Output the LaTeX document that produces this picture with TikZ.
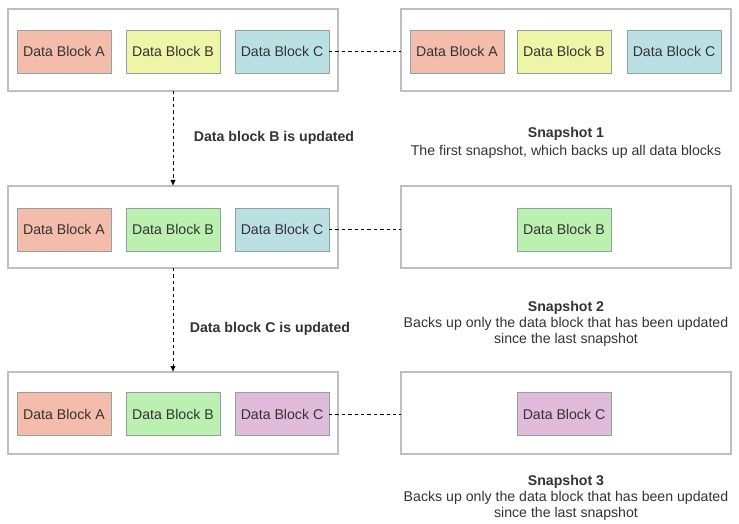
\documentclass[tikz,border=0pt]{standalone}
\usepackage{fontspec}
\setmainfont{Liberation Sans}
\usetikzlibrary{arrows.meta}
\definecolor{blockA}{HTML}{F4BCAB}
\definecolor{blockByel}{HTML}{EEF5A6}
\definecolor{blockBgrn}{HTML}{BBF0B0}
\definecolor{blockCcyn}{HTML}{BBE0E3}
\definecolor{blockCpur}{HTML}{E1BBDC}
\definecolor{blockline}{HTML}{8FA3A3}
\definecolor{boxline}{HTML}{BFBFBF}
\definecolor{txt}{HTML}{333333}
\tikzset{
  holder/.style={draw=boxline, line width=0.9pt, minimum width=247.5pt, minimum height=61.5pt, inner sep=0pt, outer sep=0pt},
  datablock/.style={draw=blockline, line width=0.7pt, minimum width=70.5pt, minimum height=32.25pt, inner sep=0pt, outer sep=0pt, text=txt, font=\fontsize{10.6}{12}\selectfont},
  link/.style={dash pattern=on 2.6pt off 2.2pt, line width=0.6pt},
  caption/.style={text=txt, align=center, font=\fontsize{10.6}{12}\selectfont}
}
\begin{document}
\begin{tikzpicture}[x=0.75pt,y=-0.75pt]
        \useasboundingbox (0,0) rectangle (739,524);
        % row 1
        \node[holder] (src1) at (173,50) {};
        \node[holder] (snap1) at (566,50) {};
        \node[datablock, fill=blockA] (a1) at (64,51.5) {Data Block A};
        \node[datablock, fill=blockByel] (b1) at (173,51.5) {Data Block B};
        \node[datablock, fill=blockCcyn] (c1) at (282,51.5) {Data Block C};
        \node[datablock, fill=blockA] (sa1) at (457,51.5) {Data Block A};
        \node[datablock, fill=blockByel] (sb1) at (564,51.5) {Data Block B};
        \node[datablock, fill=blockCcyn] (sc1) at (674,51.5) {Data Block C};
        \draw[link] (c1.east) -- (c1.east -| snap1.west);
        \node[caption] (cap1) at (566,143) {\textbf{Snapshot 1}\\[1.5pt]The first snapshot, which backs up all data blocks};
        % row 2
        \node[holder] (src2) at (173,227) {};
        \node[holder] (snap2) at (566,227) {};
        \node[datablock, fill=blockA] (a2) at (64,229.5) {Data Block A};
        \node[datablock, fill=blockBgrn] (b2) at (173,229.5) {Data Block B};
        \node[datablock, fill=blockCcyn] (c2) at (282,229.5) {Data Block C};
        \node[datablock, fill=blockBgrn] (sb2) at (564,229.5) {Data Block B};
        \draw[link] (c2.east) -- (c2.east -| snap2.west);
        \node[caption] (cap2) at (566,324) {\textbf{Snapshot 2}\\Backs up only the data block that has been updated\\since the last snapshot};
        % row 3
        \node[holder] (src3) at (173,413) {};
        \node[holder] (snap3) at (566,413) {};
        \node[datablock, fill=blockA] (a3) at (64,414) {Data Block A};
        \node[datablock, fill=blockBgrn] (b3) at (173,414) {Data Block B};
        \node[datablock, fill=blockCpur] (c3) at (282,414) {Data Block C};
        \node[datablock, fill=blockCpur] (sc3) at (564,414) {Data Block C};
        \draw[link] (c3.east) -- (c3.east -| snap3.west);
        \node[caption] (cap3) at (566,498) {\textbf{Snapshot 3}\\Backs up only the data block that has been updated\\since the last snapshot};
        % updates
        \draw[link,-{Latex[length=4.5pt,width=4pt]}] (src1.south) -- (src2.north);
        \draw[link,-{Latex[length=4.5pt,width=4pt]}] (src2.south) -- (src3.north);
        \node[caption, font=\bfseries\fontsize{10.6}{12}\selectfont] (upd1) at (274,138) {Data block B is updated};
        \node[caption, font=\bfseries\fontsize{10.6}{12}\selectfont] (upd2) at (270,329) {Data block C is updated};
\end{tikzpicture}
\end{document}
